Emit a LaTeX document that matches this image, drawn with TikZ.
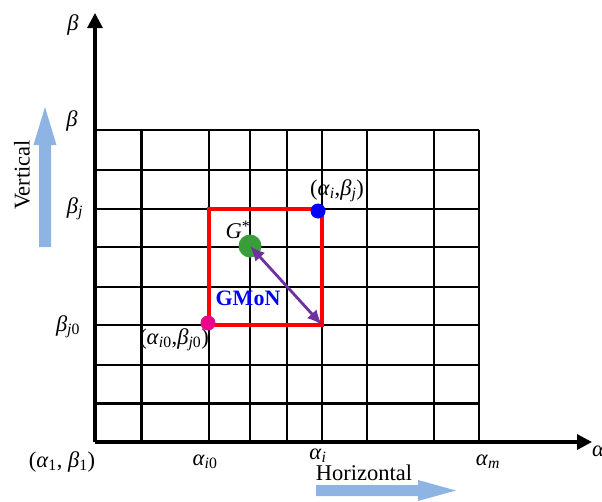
\documentclass[tikz,border=0pt]{standalone}
\usepackage{fontspec}
\setmainfont{Liberation Serif}
\usetikzlibrary{arrows.meta}
\definecolor{dirblue}{RGB}{141,180,226}
\definecolor{gmonpurple}{RGB}{112,48,160}
\definecolor{gstargreen}{RGB}{57,158,57}
\newcommand{\alp}[1]{\textit{α}\textsubscript{#1}}
\newcommand{\bet}[1]{\textit{β}\textsubscript{#1}}
\tikzset{gridline/.style={line width=2pt},
	thickline/.style={line width=3pt},
	axisline/.style={line width=3.2pt,-{Triangle[length=15pt,width=15pt]}},
	lab/.style={inner sep=0pt},
	dot/.style={circle,inner sep=0pt,minimum size=#1}}

\begin{document}
\begin{tikzpicture}[x=1pt,y=-1pt,font=\fontsize{22.5}{27}\selectfont]
	\useasboundingbox (0,0) rectangle (602,501);
	% grid
	\foreach \x in {209,250,287,322,367,434,479}{
		\draw[gridline] (\x,130) -- (\x,442);
	}
	\draw[thickline] (141,130) -- (141,442);
	\foreach \y in {130,170,209,247,287,325,365}{
		\draw[gridline] (95,\y) -- (479,\y);
	}
	\draw[thickline] (95,403) -- (479,403);
	% axes
	\coordinate (O) at (95,442);
	\coordinate (ytip) at (95,13);
	\coordinate (xtip) at (592,442);
	\draw[axisline] (O) -- (ytip);
	\draw[axisline] (O) -- (xtip);
	% axis labels
	\node[lab] (btop) at (73,25) {\textit{β}};
	\node[lab] (bmax) at (72,121) {\textit{β}};
	\node[lab] (bj) at (75,209) {\bet{\textit{j}}};
	\node[lab] (bj0) at (68,327) {\bet{\textit{j}0}};
	\node[lab] (origin) at (62,462) {(\alp{1}, \bet{1})};
	\node[lab] (ai0) at (205,462) {\alp{\textit{i}0}};
	\node[lab] (ai) at (318,456) {\alp{\textit{i}}};
	\node[lab] (am) at (488,462) {\alp{\textit{m}}};
	\node[lab,anchor=west] (aaxis) at (592,451) {\textit{α}};
	% search box
	\coordinate (c1) at (209,209);
	\coordinate (c2) at (322,209);
	\coordinate (c3) at (322,325);
	\coordinate (c4) at (209,325);
	\draw[red,line width=3.4pt] (c1) -- (c2) -- (c3) -- (c4) -- cycle;
	\node[dot=15pt,fill=blue] (pij) at (318,211) {};
	\node[dot=15pt,fill=magenta] (pi0) at (208,323) {};
	\node[dot=23pt,fill=gstargreen] (gstar) at (250,246) {};
	\draw[gmonpurple,line width=2.8pt,{Latex[length=15pt,width=13pt]}-{Latex[length=15pt,width=13pt]}] (gstar.center) -- (c3);
	\node[lab] (gl) at (238,230) {\textit{G}\textsuperscript{*}};
	\node[lab] (pijl) at (337,191) {(\alp{\textit{i}},\bet{\textit{j}})};
	\node[lab] (pi0l) at (174,340) {(\alp{\textit{i}0},\bet{\textit{j}0})};
	\node[lab,text=blue,font=\fontsize{22}{26}\selectfont\bfseries] (gmon) at (248,298) {GMoN};
	% direction arrows
	\fill[dirblue] (39,247) -- (39,145) -- (33.5,145) -- (45,107) -- (56.5,145) -- (51,145) -- (51,247) -- cycle;
	\fill[dirblue] (316,485) -- (418,485) -- (418,480) -- (456,490.5) -- (418,501) -- (418,496) -- (316,496) -- cycle;
	\node[lab,rotate=90] (vert) at (22,175) {Vertical};
	\node[lab] (hor) at (364,473) {Horizontal};
\end{tikzpicture}
\end{document}
